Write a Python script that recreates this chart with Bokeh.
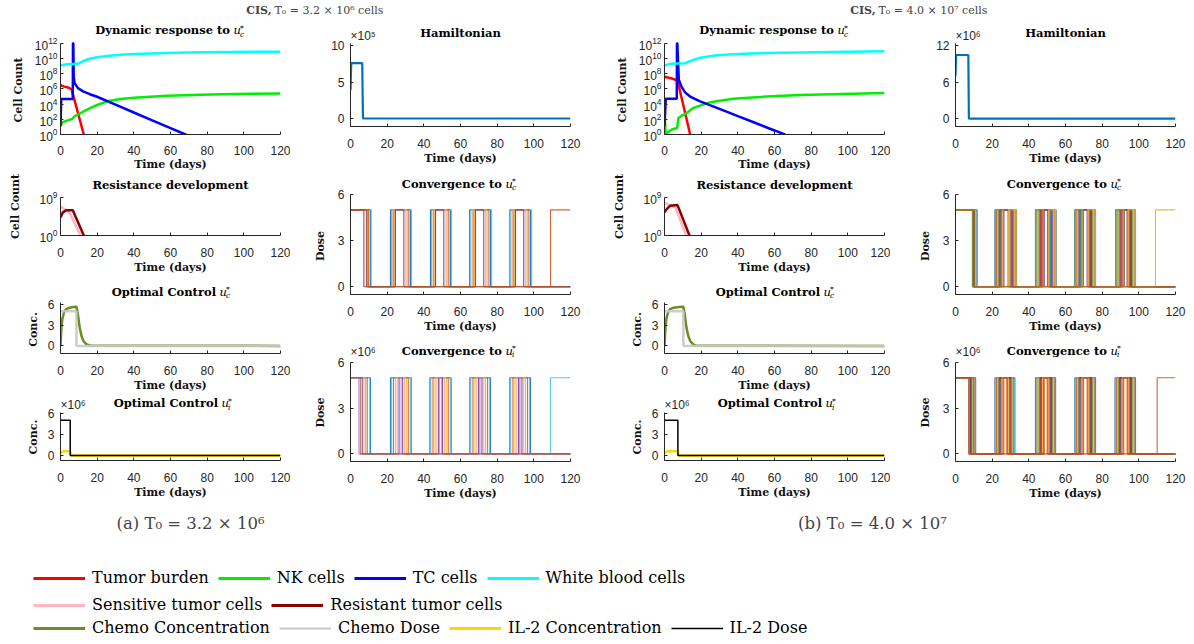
import math
from bokeh.plotting import figure
from bokeh.models import Range1d, FixedTicker, Label, Legend, LegendItem
from bokeh.layouts import row, column
from bokeh.embed import file_html
from bokeh.resources import INLINE

# ---------------- data ----------------
x_ticks = [0, 20, 40, 60, 80, 100, 120]

# Panel (a) T0 = 3.2e6
a_tumor_t = [0, 2, 3.6, 6.0, 12.7, 14]
a_tumor_v = [3.2e6, 2.0e6, 1.7e6, 9.4e5, 1.0, 0.1]
a_nk_t = [0, 1, 3.6, 6.4, 7.6, 10, 12.7, 16.4, 20, 25.5, 32.7, 40, 58, 76.4, 94.5, 120]
a_nk_v = [12, 40, 68, 112, 250, 500, 1.1e3, 3.2e3, 7.6e3, 2.3e4, 4.6e4, 6.9e4, 1.26e5, 1.7e5, 2.1e5, 2.5e5]
a_tc_t = [0, 0.4, 6.7, 6.8, 7.0, 7.2, 7.7, 9.5, 12.3, 16, 19.6, 30, 40, 50, 60, 68.2, 72]
a_tc_v = [12, 4.6e4, 4.6e4, 1e12, 1e12, 4e7, 5.8e6, 1.26e6, 4.7e5, 2e5, 1e5, 8.5e3, 790, 74, 6.9, 1.0, 0.4]
a_wbc_t = [0, 3.6, 9.3, 11, 13.6, 16.4, 20, 25.5, 32.7, 40, 58, 76, 94.5, 120]
a_wbc_v = [1.2e9, 1.8e9, 2e9, 3e9, 6.3e9, 1e10, 1.5e10, 2.2e10, 3.2e10, 4e10, 5.4e10, 6.6e10, 7.2e10, 7.9e10]
a_sens_t = [0, 3.0, 4.9, 10.9, 12]
a_sens_v = [8e6, 1e6, 3e5, 1.0, 0.1]
a_resist_t = [0, 1.3, 3.1, 6.7, 12.7, 14]
a_resist_v = [2e4, 3e5, 1e6, 1e6, 1.0, 0.1]
a_chemo_conc_t = [0, 0.5, 1, 2, 3, 5, 7, 8.7, 9.5, 10.5, 11.5, 12.5, 14, 16, 120]
a_chemo_conc_v = [0, 2.6, 3.9, 4.9, 5.3, 5.5, 5.6, 5.65, 4.5, 2.6, 1.4, 0.7, 0.25, 0.05, 0]
a_chemo_dose_t = [0, 8.7, 8.7, 120]
a_chemo_dose_v = [5, 5, 0, 0]
a_il2_conc_t = [0, 0.5, 1.5, 5.3, 5.8, 120]
a_il2_conc_v_1e6 = [0.25, 0.45, 0.6, 0.6, 0, 0]
a_il2_dose_t = [0, 5.3, 5.3, 120]
a_il2_dose_v_1e6 = [5, 5, 0, 0]
a_ham_t = [0, 0.4, 6.4, 6.8, 120]
a_ham_v_1e5 = [3.9, 7.6, 7.6, 0, 0]
# iterations: [first switch-off, pulse1 on, off, pulse2 on, off, pulse3 on, off, pulse4 on, off, final on]
a_uc_iters = [
    [10.9, 21.8, 32.7, 43.6, 54.5, 65.0, 76.4, 86.9, 98.2, None],
    [11.3, 22.4, 33.3, 44.2, 55.1, 65.6, 77.0, 87.5, 98.8, None],
    [10.0, 23.6, 31.8, 45.4, 53.6, 67.3, 75.5, 89.1, 97.3, None],
    [9.5, 24.2, 30.9, 46.0, 52.7, 67.8, 74.5, 89.6, 96.4, None],
    [9.1, 23.0, 30.2, 45.0, 52.1, 66.5, 73.8, 88.4, 95.6, None],
    [7.3, 24.5, 29.1, 46.4, 50.9, 68.2, 72.7, 90.0, 94.5, None],
    [9.6, None, None, None, None, None, None, None, None, 109.1],
    [8.7, None, None, None, None, None, None, None, None, None],
]
a_uc_colors = ["#0072BD", "#4DBEEE", "#D95319", "#EDB120", "#F4A582", "#7E2F8E", "#D95319", "#A0522D"]
a_ui_iters = [
    [10.9, 21.8, 33.1, 43.3, 54.9, 65.1, 76.4, 86.9, 98.2, None],
    [10.5, 22.3, 32.6, 43.8, 54.4, 65.6, 75.9, 87.4, 97.7, 109.1],
    [9.1, 23.4, 31.5, 45.0, 53.3, 66.8, 74.8, 88.6, 96.6, None],
    [8.2, 24.5, 30.4, 46.1, 52.2, 67.9, 73.7, 89.7, 95.5, None],
    [7.3, 25.5, 29.4, 47.1, 51.2, 68.9, 72.7, 90.7, 94.5, None],
    [6.4, 26.5, 28.4, 48.1, 50.2, 69.9, 71.7, 91.7, 93.5, None],
    [4.5, 27.0, 28.0, 48.6, 49.7, 70.4, 71.2, 92.2, 93.0, None],
    [5.3, None, None, None, None, None, None, None, None, None],
]
a_ui_colors = ["#0072BD", "#4DBEEE", "#D95319", "#EDB120", "#F4A582", "#7E2F8E", "#C39BD3", "#A0522D"]

# Panel (b) T0 = 4.0e7
b_tumor_t = [0, 4, 7.1, 14, 15]
b_tumor_v = [4.0e7, 2.3e7, 1.3e7, 1.0, 0.1]
b_nk_t = [0, 0.7, 1.3, 4, 6.9, 7.6, 9.4, 12.1, 15.7, 19.4, 24.8, 37.5, 55.6, 73.8, 120]
b_nk_v = [400, 1.2, 1.6, 4.5, 7.2, 150, 300, 680, 3.2e3, 6.3e3, 1.7e4, 5e4, 1e5, 1.6e5, 2.8e5]
b_tc_t = [0, 0.7, 6.7, 6.8, 7.0, 7.8, 9.4, 11.2, 14, 19.4, 30, 40, 50, 60, 65.6, 70]
b_tc_v = [12, 5e4, 5e4, 1e12, 1e12, 1.6e7, 1.7e6, 3.5e5, 1e5, 2.3e4, 2.3e3, 260, 30, 3.4, 1.0, 0.3]
b_wbc_t = [0, 3, 11.2, 14.8, 19.4, 28.5, 37.5, 55.6, 73.8, 120]
b_wbc_v = [1.2e9, 2e9, 2.4e9, 5.4e9, 1.3e10, 2.7e10, 3.6e10, 5.4e10, 6.3e10, 8.9e10]
b_sens_t = [0, 3, 6, 11.8, 13]
b_sens_v = [5e7, 1.5e7, 4e6, 1.0, 0.1]
b_resist_t = [0, 1.3, 3.1, 7.1, 13.6, 15]
b_resist_v = [3e5, 2e6, 1.1e7, 1.6e7, 1.0, 0.1]
b_chemo_conc_t = [0, 0.5, 1, 2, 3, 5, 8, 10.3, 11, 12, 13, 14, 15.5, 17, 120]
b_chemo_conc_v = [0, 2.6, 3.9, 4.9, 5.3, 5.5, 5.6, 5.65, 4.6, 2.6, 1.4, 0.7, 0.25, 0.05, 0]
b_chemo_dose_t = [0, 10.3, 10.3, 120]
b_chemo_dose_v = [5, 5, 0, 0]
b_il2_conc_t = [0, 0.5, 1.5, 7.3, 7.8, 120]
b_il2_conc_v_1e6 = [0.25, 0.45, 0.6, 0.6, 0, 0]
b_il2_dose_t = [0, 7.3, 7.3, 120]
b_il2_dose_v_1e6 = [5, 5, 0, 0]
b_ham_t = [0, 0.3, 7.0, 7.3, 120]
b_ham_v_1e6 = [7.0, 10.5, 10.5, 0, 0]
b_uc_iters = [
    [11.8, 21.5, 33.3, 43.6, 54.9, 65.0, 76.4, 87.3, 98.2, None],
    [11.4, 21.9, 32.9, 44.0, 54.5, 65.4, 76.0, 87.7, 97.8, None],
    [11.0, 22.4, 32.5, 44.5, 54.1, 65.9, 75.6, 88.2, 97.4, None],
    [10.6, 22.9, 32.1, 45.0, 53.7, 66.4, 75.2, 88.7, 97.0, None],
    [10.2, 23.4, 31.7, 45.5, 53.2, 66.9, 74.7, 89.2, 96.5, None],
    [9.8, 23.9, 31.2, 46.0, 52.7, 67.4, 74.2, 89.7, 96.0, None],
    [9.5, 24.4, 30.7, 46.5, 52.2, 67.9, 73.7, 90.2, 95.5, None],
    [9.2, 24.9, 30.2, 47.0, 51.7, 68.4, 73.2, 90.7, 95.0, None],
    [9.6, 25.4, 29.7, 47.5, 51.2, 68.9, 72.7, 91.2, 94.5, None],
    [10.4, 25.9, 29.2, 48.0, 50.7, 69.4, 72.2, 91.7, 94.0, None],
    [10.0, 26.4, 28.7, 48.4, 50.3, 69.8, 71.8, 92.1, 93.6, None],
    [9.4, 21.7, 26.2, 43.8, 48.0, 65.2, 69.6, 87.5, 91.9, None],
    [10.8, 28.9, 33.1, 51.0, 54.7, 72.2, 76.2, 94.2, 98.0, 109.1],
    [10.3, None, None, None, None, None, None, None, None, None],
]
b_uc_colors = ["#0072BD", "#4DBEEE", "#D95319", "#EDB120", "#77AC30", "#7E2F8E", "#A2142F",
               "#0072BD", "#D95319", "#EDB120", "#7E2F8E", "#77AC30", "#EDB120", "#A0522D"]
b_ui_iters = [
    [11.0, 21.5, 32.4, 43.6, 54.6, 65.1, 76.4, 87.0, 98.2, None],
    [10.6, 21.9, 32.0, 44.0, 54.2, 65.5, 76.0, 87.4, 97.8, None],
    [10.1, 22.4, 31.6, 44.5, 53.8, 66.0, 75.6, 87.9, 97.4, None],
    [9.6, 22.9, 31.2, 45.0, 53.3, 66.5, 75.1, 88.4, 96.9, None],
    [9.1, 23.4, 30.8, 45.5, 52.9, 67.0, 74.7, 88.9, 96.5, None],
    [8.6, 23.9, 30.3, 46.0, 52.4, 67.5, 74.2, 89.4, 96.0, None],
    [8.2, 24.4, 29.8, 46.5, 51.9, 68.0, 73.7, 89.9, 95.5, None],
    [7.8, 24.9, 29.3, 47.0, 51.4, 68.5, 73.2, 90.4, 95.0, None],
    [7.5, 25.4, 28.8, 47.5, 50.9, 69.0, 72.7, 90.9, 94.5, None],
    [7.3, 25.9, 28.3, 48.0, 50.4, 69.5, 72.2, 91.4, 94.0, None],
    [9.9, 26.4, 28.0, 48.4, 50.0, 69.9, 71.8, 91.8, 93.6, 110.0],
    [7.3, None, None, None, None, None, None, None, None, None],
]
b_ui_colors = ["#0072BD", "#4DBEEE", "#D95319", "#EDB120", "#77AC30", "#7E2F8E", "#A2142F",
               "#0072BD", "#EDB120", "#D95319", "#D95319", "#A0522D"]

legend_rows = [
    [("Tumor burden", "#FF0000", 3), ("NK cells", "#00EE00", 3), ("TC cells", "#0000FF", 3), ("White blood cells", "#00FFFF", 3)],
    [("Sensitive tumor cells", "#FFB6C1", 3), ("Resistant tumor cells", "#8B0000", 3)],
    [("Chemo Concentration", "#6B8E23", 3), ("Chemo Dose", "#C8C8C8", 2), ("IL-2 Concentration", "#FFD700", 3), ("IL-2 Dose", "#000000", 1.5)],
]

# ---------------- style ----------------
AX = "#262626"
TICK_FONT = "Liberation Sans"
SERIF = "DejaVu Serif"
TSZ = "11.5px"
NB = "\u00a0"


def ext_range(lo, hi, head_px, data_px, log=False):
    """Range whose frame also holds a title band of head_px above the data area."""
    if log:
        a, b = math.log10(lo), math.log10(hi)
        return Range1d(lo, 10 ** (b + head_px * (b - a) / data_px))
    return Range1d(lo, hi + head_px * (hi - lo) / data_px)


def base_fig(w, h, bl, br, bb, lo, hi, head_px, data_px, ylog=False, bt=0):
    p = figure(width=w, height=h, x_range=Range1d(0, 120),
               y_range=ext_range(lo, hi, head_px, data_px, ylog),
               y_axis_type="log" if ylog else "linear", title=None,
               output_backend="svg", toolbar_location=None,
               min_border_left=bl, min_border_right=br, min_border_top=bt, min_border_bottom=bb)
    p.outline_line_color = None
    p.xgrid.visible = False
    p.ygrid.visible = False
    p.background_fill_color = "white"
    p.border_fill_color = "white"
    for ax in (p.xaxis[0], p.yaxis[0]):
        ax.axis_line_color = AX
        ax.axis_line_width = 1
        ax.major_tick_line_color = AX
        ax.minor_tick_line_color = None
        ax.major_tick_in = 3
        ax.major_tick_out = 0
        ax.major_label_text_font = TICK_FONT
        ax.major_label_text_font_size = "12px"
        ax.major_label_text_color = AX
        ax.axis_label_text_font = SERIF
        ax.axis_label_text_font_style = "bold"
        ax.axis_label_text_font_size = "11px"
        ax.axis_label_text_color = "#111111"
    p.yaxis.bounds = (lo, hi)
    p.xaxis.ticker = FixedTicker(ticks=x_ticks, minor_ticks=[])
    p.xaxis.axis_label = "Time (days)"
    p.xaxis.major_label_standoff = 12
    p.xaxis.axis_label_standoff = 1
    p.yaxis.major_label_standoff = 3 if ylog else 6
    p.yaxis.axis_label_standoff = 7 if ylog else 8
    p._top = hi
    return p


def add_title(p, text, dy, xoff=0, sym=None, sub=None):
    top = p._top
    if sym is None:
        p.add_layout(Label(x=60, y=top, text=text, text_align="center", text_baseline="middle",
                           y_offset=dy, text_font=SERIF, text_font_style="bold",
                           text_font_size=TSZ, text_color="black"))
        return
    p.add_layout(Label(x=60, y=top, text=text, text_align="right", text_baseline="middle",
                       x_offset=xoff - 3.5, y_offset=dy, text_font=SERIF, text_font_style="bold",
                       text_font_size=TSZ, text_color="black"))
    p.add_layout(Label(x=60, y=top, text=sym, text_align="left", text_baseline="middle",
                       x_offset=xoff, y_offset=dy, text_font=SERIF, text_font_style="italic",
                       text_font_size=TSZ, text_color="black"))
    p.add_layout(Label(x=60, y=top, text=sub, text_align="left", text_baseline="middle",
                       x_offset=xoff + 6.5, y_offset=dy - 4, text_font=SERIF, text_font_style="italic",
                       text_font_size="7.5px", text_color="black"))
    p.add_layout(Label(x=60, y=top, text="*", text_align="left", text_baseline="middle",
                       x_offset=xoff + 6.5, y_offset=dy + 2, text_font=SERIF,
                       text_font_size="7.5px", text_color="black"))


def add_mult(p, text, dy):
    p.add_layout(Label(x=0, y=p._top, text=text, text_align="left", text_baseline="middle",
                       y_offset=dy, text_font=TICK_FONT, text_font_size="12px", text_color=AX))


def pulse_xy(it, level):
    off = it[0]
    xs = [0, off, off]
    ys = [level, level, 0]
    for k in range(1, 9, 2):
        s, e = it[k], it[k + 1]
        if s is not None:
            xs += [s, s, e, e]
            ys += [0, level, level, 0]
    fin = it[9]
    if fin is not None:
        xs += [fin, fin, 120]
        ys += [0, level, level]
    else:
        xs += [120]
        ys += [0]
    return xs, ys


def col1(d, W, BL, BR):
    p1 = base_fig(W, 151, BL, BR, 38, 1, 1e12, 21, 92, ylog=True)
    p1.yaxis.ticker = FixedTicker(ticks=[1, 1e2, 1e4, 1e6, 1e8, 1e10, 1e12], minor_ticks=[])
    p1.yaxis.axis_label = "Cell Count" + NB * 6
    p1.xaxis.major_label_standoff = 11
    p1.xaxis.axis_label_standoff = 0
    p1.line(d["tumor_t"], d["tumor_v"], line_color="#FF0000", line_width=2.5)
    p1.line(d["nk_t"], d["nk_v"], line_color="#00EE00", line_width=2.5)
    p1.line(d["tc_t"], d["tc_v"], line_color="#0000FF", line_width=2.5)
    p1.line(d["wbc_t"], d["wbc_v"], line_color="#00FFFF", line_width=2.5)
    add_title(p1, "Dynamic response to", 13, xoff=63, sym="u", sub="c")

    p2 = base_fig(W, 109, BL, BR, 47, 1, 1e9, 20, 38, ylog=True, bt=4)
    p2.yaxis.ticker = FixedTicker(ticks=[1, 1e9], minor_ticks=[])
    p2.yaxis.axis_label = "Cell Count"
    p2.yaxis.axis_label_standoff = 14
    p2.line(d["sens_t"], d["sens_v"], line_color="#FFB6C1", line_width=2.5)
    p2.line(d["resist_t"], d["resist_v"], line_color="#8B0000", line_width=2.5)
    add_title(p2, "Resistance development", 13)

    p3 = base_fig(W, 112, BL, BR, 40, -1.1, 6.3, 20, 52)
    p3.yaxis.ticker = FixedTicker(ticks=[0, 3, 6], minor_ticks=[])
    p3.yaxis.axis_label = "Conc." + NB * 6
    p3.yaxis.axis_label_standoff = 5
    p3.line(d["chemo_conc_t"], d["chemo_conc_v"], line_color="#6B8E23", line_width=2.5)
    p3.line(d["chemo_dose_t"], d["chemo_dose_v"], line_color="#C8C8C8", line_width=2.5, line_alpha=0.9)
    add_title(p3, "Optimal Control", 10.3, xoff=49, sym="u", sub="c")

    p4 = base_fig(W, 111, BL, BR, 45, -0.7, 6.1, 18, 48)
    p4.yaxis.ticker = FixedTicker(ticks=[0, 3, 6], minor_ticks=[])
    p4.yaxis.axis_label = "Conc." + NB * 5
    p4.yaxis.axis_label_standoff = 5
    p4.line(d["il2_conc_t"], d["il2_conc_v"], line_color="#FFD700", line_width=2.5)
    p4.line(d["il2_dose_t"], d["il2_dose_v"], line_color="#000000", line_width=1.5)
    add_title(p4, "Optimal Control", 9.3, xoff=51, sym="u", sub="i")
    add_mult(p4, "\u00d710\u2076", 7.7)
    return column(p1, p2, p3, p4, spacing=0)


def conv_plot(iters, colors, W, BL, BR, h, bb, head, data_px, sub, dy, mult=None, mdy=0):
    p = base_fig(W, h, BL, BR, bb, -0.5, 6, head, data_px)
    p.yaxis.ticker = FixedTicker(ticks=[0, 3, 6], minor_ticks=[])
    p.yaxis.axis_label = "Dose" + NB * 6
    for it, c in zip(iters, colors):
        xs, ys = pulse_xy(it, 5)
        p.line(xs, ys, line_color=c, line_width=1.1, line_alpha=0.9)
    add_title(p, "Convergence to", dy, xoff=45, sym="u", sub=sub)
    if mult:
        add_mult(p, mult, mdy)
    return p


def col2(d, W, BL, BR):
    p1 = base_fig(W, 152, BL, BR, 48, d["ham_lo"], d["ham_hi"], 21, 83)
    p1.yaxis.ticker = FixedTicker(ticks=d["ham_ticks"], minor_ticks=[])
    p1.line(d["ham_t"], d["ham_v"], line_color="#0072BD", line_width=2.2)
    add_title(p1, "Hamiltonian", 10.3)
    add_mult(p1, d["ham_mult"], 8)
    p2 = conv_plot(d["uc_iters"], d["uc_colors"], W, BL, BR, 166, 46, 20, 100, "c", 10.7)
    p3 = conv_plot(d["ui_iters"], d["ui_colors"], W, BL, BR, 165, 44, 22, 99, "i", 12,
                   mult="\u00d710\u2076", mdy=10.3)
    return column(p1, p2, p3, spacing=0)


def header_fig(w, text_bold, text_rest, anchor):
    p = figure(width=w, height=22, x_range=Range1d(0, w), y_range=Range1d(0, 22),
               x_axis_location=None, y_axis_location=None, title=None,
               output_backend="svg", toolbar_location=None, min_border=0)
    p.outline_line_color = None
    p.xgrid.visible = False
    p.ygrid.visible = False
    p.add_layout(Label(x=anchor, y=12, text=text_bold, text_align="right", text_baseline="middle",
                       text_font=SERIF, text_font_style="bold", text_font_size="11px"))
    p.add_layout(Label(x=anchor + 3, y=12, text=text_rest, text_align="left", text_baseline="middle",
                       text_font=SERIF, text_font_size="11px"))
    return p


da = dict(tumor_t=a_tumor_t, tumor_v=a_tumor_v, nk_t=a_nk_t, nk_v=a_nk_v, tc_t=a_tc_t, tc_v=a_tc_v,
          wbc_t=a_wbc_t, wbc_v=a_wbc_v, sens_t=a_sens_t, sens_v=a_sens_v, resist_t=a_resist_t,
          resist_v=a_resist_v, chemo_conc_t=a_chemo_conc_t, chemo_conc_v=a_chemo_conc_v,
          chemo_dose_t=a_chemo_dose_t, chemo_dose_v=a_chemo_dose_v, il2_conc_t=a_il2_conc_t,
          il2_conc_v=a_il2_conc_v_1e6, il2_dose_t=a_il2_dose_t, il2_dose_v=a_il2_dose_v_1e6,
          ham_t=a_ham_t, ham_v=a_ham_v_1e5, ham_lo=-1.1, ham_hi=10.3, ham_ticks=[0, 5, 10],
          ham_mult="\u00d710\u2075", uc_iters=a_uc_iters, uc_colors=a_uc_colors,
          ui_iters=a_ui_iters, ui_colors=a_ui_colors)
db = dict(tumor_t=b_tumor_t, tumor_v=b_tumor_v, nk_t=b_nk_t, nk_v=b_nk_v, tc_t=b_tc_t, tc_v=b_tc_v,
          wbc_t=b_wbc_t, wbc_v=b_wbc_v, sens_t=b_sens_t, sens_v=b_sens_v, resist_t=b_resist_t,
          resist_v=b_resist_v, chemo_conc_t=b_chemo_conc_t, chemo_conc_v=b_chemo_conc_v,
          chemo_dose_t=b_chemo_dose_t, chemo_dose_v=b_chemo_dose_v, il2_conc_t=b_il2_conc_t,
          il2_conc_v=b_il2_conc_v_1e6, il2_dose_t=b_il2_dose_t, il2_dose_v=b_il2_dose_v_1e6,
          ham_t=b_ham_t, ham_v=b_ham_v_1e6, ham_lo=-1.3, ham_hi=12.4, ham_ticks=[0, 6, 12],
          ham_mult="\u00d710\u2076", uc_iters=b_uc_iters, uc_colors=b_uc_colors,
          ui_iters=b_ui_iters, ui_colors=b_ui_colors)

panel_a = column(header_fig(608, "CIS,", "T\u2080 = 3.2 \u00d7 10\u2076 cells", 271),
                 row(col1(da, 290, 60, 10), col2(da, 318, 60, 38), spacing=0), spacing=0)
panel_b = column(header_fig(582, "CIS,", "T\u2080 = 4.0 \u00d7 10\u2077 cells", 267),
                 row(col1(db, 282, 56, 6), col2(db, 300, 65, 15), spacing=0), spacing=0)

# captions
cap = figure(width=1190, height=40, x_range=Range1d(0, 1190), y_range=Range1d(0, 40),
             x_axis_location=None, y_axis_location=None, title=None,
             output_backend="svg", toolbar_location=None, min_border=0)
cap.outline_line_color = None
cap.xgrid.visible = False
cap.ygrid.visible = False
cap.add_layout(Label(x=190, y=22, text="(a) T\u2080 = 3.2 \u00d7 10\u2076", text_align="center",
                     text_baseline="middle", text_font=SERIF, text_font_size="16.5px"))
cap.add_layout(Label(x=872, y=22, text="(b) T\u2080 = 4.0 \u00d7 10\u2077", text_align="center",
                     text_baseline="middle", text_font=SERIF, text_font_size="16.5px"))

# legend figure
lg = figure(width=1190, height=97, x_range=Range1d(0, 1), y_range=Range1d(0, 1),
            x_axis_location=None, y_axis_location=None, title=None,
            output_backend="svg", toolbar_location=None, min_border=0)
lg.outline_line_color = None
lg.xgrid.visible = False
lg.ygrid.visible = False
for r_items, ypos in zip(legend_rows, [55, 28, 5]):
    items = []
    for lab, col, lw in r_items:
        rr = lg.line(x=[5, 6], y=[5, 5], line_color=col, line_width=lw)
        items.append(LegendItem(label=lab, renderers=[rr]))
    leg = Legend(items=items, location=(33, ypos), orientation="horizontal",
                 glyph_width=52, glyph_height=18, label_height=18, label_width=0,
                 label_standoff=7, spacing=9, padding=0, margin=0,
                 border_line_color=None, background_fill_alpha=0,
                 label_text_font=SERIF, label_text_font_size="16px", label_text_color="black")
    lg.add_layout(leg)

layout = column(row(panel_a, panel_b, spacing=0), cap, lg, spacing=0)

open("out.html", "w").write(file_html(layout, INLINE))
